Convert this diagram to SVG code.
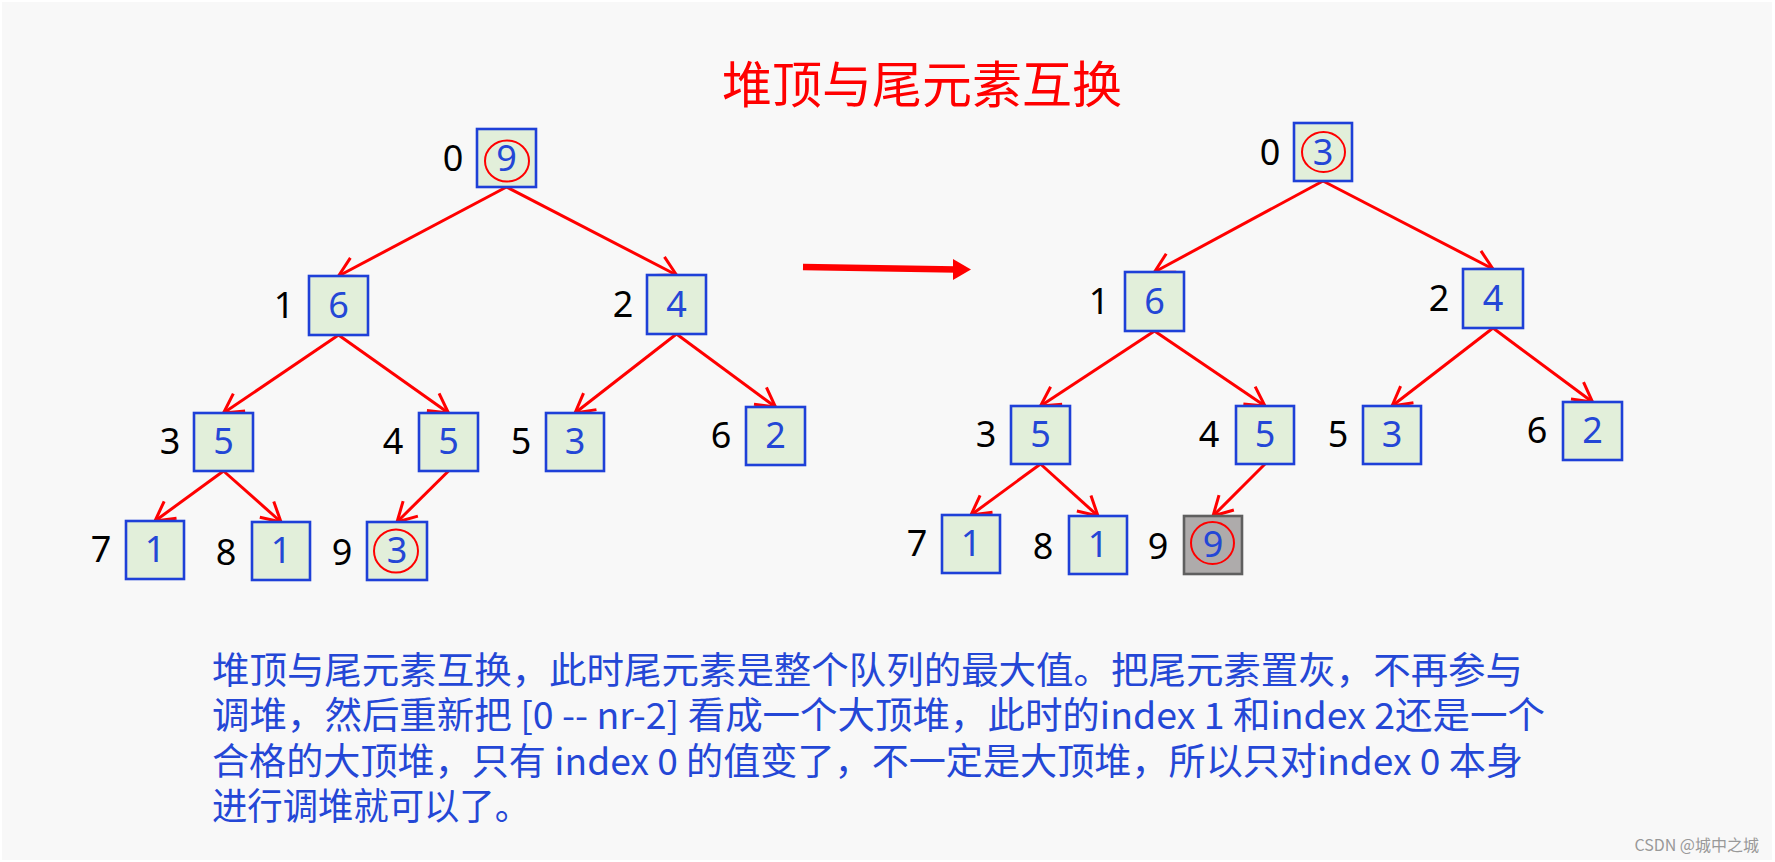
<svg xmlns="http://www.w3.org/2000/svg" width="1775" height="862" viewBox="0 0 1775 862">
<defs>
<style>
.box{fill:#e2efda;stroke:#1e40d8;stroke-width:2.6}
.gray{fill:#aeabab;stroke:#5f5f5f;stroke-width:2.6}
.val{font-family:"Noto Sans","Noto Sans CJK SC",sans-serif;font-size:36px;fill:#2447d6;text-anchor:middle}
.idx{font-family:"Noto Sans","Noto Sans CJK SC",sans-serif;font-size:36px;fill:#000;text-anchor:middle}
.ring{fill:none;stroke:#ff0000;stroke-width:2}
.edge{stroke:#ff0000;stroke-width:3;fill:none;marker-end:url(#ah)}
.desc{font-family:"Noto Sans CJK SC","Noto Sans",sans-serif;font-size:37px;fill:#2447d6}
</style>
<marker id="ah" markerUnits="userSpaceOnUse" markerWidth="26" markerHeight="26" viewBox="0 0 26 26" refX="23" refY="13" orient="auto">
<path d="M4,2.5 L23,13 L4,23.5" fill="none" stroke="#ff0000" stroke-width="3"/>
</marker>
</defs>
<rect x="0" y="0" width="1775" height="862" fill="#ffffff"/>
<rect x="2" y="2" width="1770" height="858" fill="#f8f8f8"/>
<text id="title" x="922" y="103" font-family="Noto Sans CJK SC,sans-serif" font-size="50" fill="#ff0000" text-anchor="middle">堆顶与尾元素互换</text>

<g id="connectors">
<line class="edge" x1="506.5" y1="187" x2="338.5" y2="276"/>
<line class="edge" x1="506.5" y1="187" x2="676.5" y2="275"/>
<line class="edge" x1="338.5" y1="335" x2="223.5" y2="413"/>
<line class="edge" x1="338.5" y1="335" x2="448.5" y2="413"/>
<line class="edge" x1="676.5" y1="334" x2="575" y2="413"/>
<line class="edge" x1="676.5" y1="334" x2="775.5" y2="407"/>
<line class="edge" x1="223.5" y1="471" x2="155" y2="521"/>
<line class="edge" x1="223.5" y1="471" x2="281" y2="522"/>
<line class="edge" x1="448.5" y1="471" x2="397" y2="522"/>
<line class="edge" x1="1323" y1="181" x2="1154.5" y2="272"/>
<line class="edge" x1="1323" y1="181" x2="1493" y2="269"/>
<line class="edge" x1="1154.5" y1="331" x2="1040.5" y2="406"/>
<line class="edge" x1="1154.5" y1="331" x2="1265" y2="406"/>
<line class="edge" x1="1493" y1="328" x2="1392" y2="406"/>
<line class="edge" x1="1493" y1="328" x2="1592.5" y2="402"/>
<line class="edge" x1="1040.5" y1="464" x2="971" y2="515"/>
<line class="edge" x1="1040.5" y1="464" x2="1098" y2="516"/>
<line class="edge" x1="1265" y1="464" x2="1213" y2="516"/>
<g id="big-arrow">
<line x1="803" y1="267" x2="956" y2="269.5" stroke="#ff0000" stroke-width="6.5"/>
<polygon points="953,259 971,269.5 953,280" fill="#ff0000"/>
</g>
</g>

<g id="L0"><rect class="box" x="477" y="129" width="59" height="58"/><ellipse class="ring" cx="507" cy="161" rx="22" ry="20.5"/><text class="val" x="506.5" y="171">9</text><text class="idx" x="453" y="171">0</text></g>
<g id="L1"><rect class="box" x="309" y="276" width="59" height="59"/><text class="val" x="338.5" y="318">6</text><text class="idx" x="284" y="318">1</text></g>
<g id="L2"><rect class="box" x="647" y="275" width="59" height="59"/><text class="val" x="676.5" y="317">4</text><text class="idx" x="623" y="317">2</text></g>
<g id="L3"><rect class="box" x="194" y="413" width="59" height="58"/><text class="val" x="223.5" y="454">5</text><text class="idx" x="170" y="454">3</text></g>
<g id="L4"><rect class="box" x="419" y="413" width="59" height="58"/><text class="val" x="448.5" y="454">5</text><text class="idx" x="393" y="454">4</text></g>
<g id="L5"><rect class="box" x="546" y="413" width="58" height="58"/><text class="val" x="575" y="454">3</text><text class="idx" x="521" y="454">5</text></g>
<g id="L6"><rect class="box" x="746" y="407" width="59" height="58"/><text class="val" x="775.5" y="448">2</text><text class="idx" x="721" y="448">6</text></g>
<g id="L7"><rect class="box" x="126" y="521" width="58" height="58"/><text class="val" x="155" y="562">1</text><text class="idx" x="101" y="562">7</text></g>
<g id="L8"><rect class="box" x="252" y="522" width="58" height="58"/><text class="val" x="281" y="563">1</text><text class="idx" x="226" y="565">8</text></g>
<g id="L9"><rect class="box" x="367" y="522" width="60" height="58"/><ellipse class="ring" cx="396" cy="551" rx="22" ry="21.5"/><text class="val" x="397" y="563">3</text><text class="idx" x="342" y="565">9</text></g>

<g id="R0"><rect class="box" x="1294" y="123" width="58" height="58"/><ellipse class="ring" cx="1323.5" cy="152" rx="21.5" ry="20"/><text class="val" x="1323" y="165">3</text><text class="idx" x="1270" y="165">0</text></g>
<g id="R1"><rect class="box" x="1125" y="272" width="59" height="59"/><text class="val" x="1154.5" y="314">6</text><text class="idx" x="1099" y="314">1</text></g>
<g id="R2"><rect class="box" x="1463" y="269" width="60" height="59"/><text class="val" x="1493" y="311">4</text><text class="idx" x="1439" y="311">2</text></g>
<g id="R3"><rect class="box" x="1011" y="406" width="59" height="58"/><text class="val" x="1040.5" y="447">5</text><text class="idx" x="986" y="447">3</text></g>
<g id="R4"><rect class="box" x="1236" y="406" width="58" height="58"/><text class="val" x="1265" y="447">5</text><text class="idx" x="1209" y="447">4</text></g>
<g id="R5"><rect class="box" x="1363" y="406" width="58" height="58"/><text class="val" x="1392" y="447">3</text><text class="idx" x="1338" y="447">5</text></g>
<g id="R6"><rect class="box" x="1563" y="402" width="59" height="58"/><text class="val" x="1592.5" y="443">2</text><text class="idx" x="1537" y="443">6</text></g>
<g id="R7"><rect class="box" x="942" y="515" width="58" height="58"/><text class="val" x="971" y="556">1</text><text class="idx" x="917" y="556">7</text></g>
<g id="R8"><rect class="box" x="1069" y="516" width="58" height="58"/><text class="val" x="1098" y="557">1</text><text class="idx" x="1043" y="559">8</text></g>
<g id="R9"><rect class="gray" x="1184" y="516" width="58" height="58"/><ellipse class="ring" cx="1212.5" cy="543" rx="21.5" ry="21"/><text class="val" x="1213" y="557">9</text><text class="idx" x="1158" y="559">9</text></g>

<g id="description">
<text class="desc" x="212" y="684" textLength="1311" lengthAdjust="spacingAndGlyphs">堆顶与尾元素互换，此时尾元素是整个队列的最大值。把尾元素置灰，不再参与</text>
<text class="desc" x="212" y="729" textLength="1333" lengthAdjust="spacingAndGlyphs">调堆，然后重新把 [0 -- nr-2] 看成一个大顶堆，此时的index 1 和index 2还是一个</text>
<text class="desc" x="212" y="775" textLength="1311" lengthAdjust="spacingAndGlyphs">合格的大顶堆，只有 index 0 的值变了，不一定是大顶堆，所以只对index 0 本身</text>
<text class="desc" x="212" y="820" textLength="318" lengthAdjust="spacingAndGlyphs">进行调堆就可以了。</text>
</g>
<text id="watermark" x="1759" y="851" font-family="Noto Sans CJK SC,sans-serif" font-size="16" fill="#999999" text-anchor="end">CSDN @城中之城</text>
</svg>
